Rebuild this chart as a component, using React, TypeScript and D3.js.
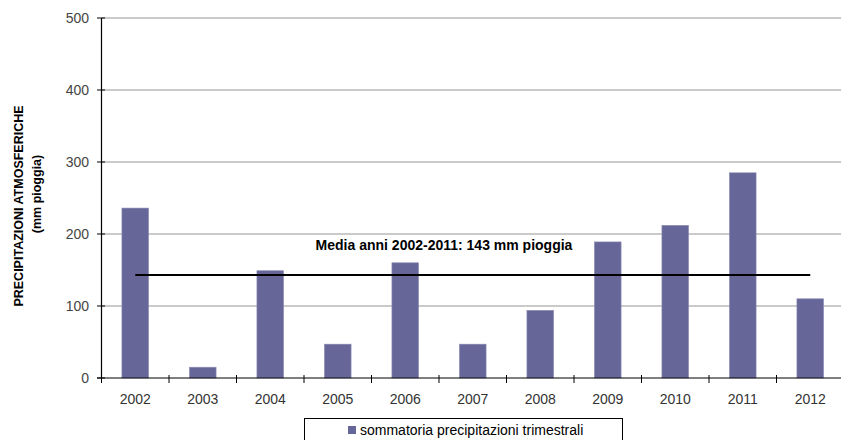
import React from "react";
import * as d3 from "d3";

const years = ["2002", "2003", "2004", "2005", "2006", "2007", "2008", "2009", "2010", "2011", "2012"];
const rainfall = [236, 15, 149, 47, 160, 47, 94, 189, 212, 285, 110];
const yTicks = [0, 100, 200, 300, 400, 500];
const meanValue = 143;
const meanLabel = "Media anni 2002-2011: 143 mm pioggia";
const seriesName = "sommatoria precipitazioni trimestrali";
const yTitle = "PRECIPITAZIONI ATMOSFERICHE";
const ySubTitle = "(mm pioggia)";

const W = 841;
const H = 440;
const left = 101.5;
const right = 844;
const top = 18;
const bottom = 378;
const barColor = "#666699";
const font = "Liberation Sans, Arial, sans-serif";

export default function App() {
  const x = d3.scaleBand<string>().domain(years).range([left, right]).padding(0);
  const y = d3.scaleLinear().domain([0, 500]).range([bottom, top]);
  const bw = x.bandwidth();
  const barW = bw * 0.395;
  const center = (yr: string) => (x(yr) as number) + bw / 2;
  const boundaries = d3.range(years.length + 1).map((i) => left + i * bw);

  return (
    <svg
      width={W}
      height={H}
      style={{ position: "absolute", left: 0, top: 0, background: "#fff" }}
      fontFamily={font}
    >
      {/* gridlines */}
      {yTicks.filter((t) => t > 0).map((t) => (
        <line key={"g" + t} x1={left} x2={right} y1={y(t)} y2={y(t)} stroke="#959595" strokeWidth={1} />
      ))}

      {/* bars */}
      {years.map((yr, i) => (
        <rect
          key={yr}
          x={center(yr) - barW / 2}
          y={y(rainfall[i])}
          width={barW}
          height={y(0) - y(rainfall[i])}
          fill={barColor}
          stroke="#8d8db5"
          strokeWidth={0.6}
        />
      ))}

      {/* mean line */}
      <line
        x1={center(years[0])}
        x2={center(years[years.length - 1])}
        y1={y(meanValue)}
        y2={y(meanValue)}
        stroke="#000"
        strokeWidth={2}
      />
      <text x={444} y={250} textAnchor="middle" fontSize={14} fontWeight="bold" fill="#000">
        {meanLabel}
      </text>

      {/* y axis */}
      <line x1={left} x2={left} y1={top} y2={bottom} stroke="#000" strokeWidth={1.2} />
      {yTicks.map((t) => (
        <g key={"t" + t}>
          <line x1={left - 4.5} x2={left + 3.5} y1={y(t)} y2={y(t)} stroke="#000" strokeWidth={1} />
          <text x={89} y={y(t) + 5} textAnchor="end" fontSize={14} fill="#444">
            {t}
          </text>
        </g>
      ))}

      {/* x axis */}
      <line x1={left - 4.5} x2={right} y1={bottom} y2={bottom} stroke="#000" strokeWidth={1.2} />
      {boundaries.map((bx, i) => (
        <line key={"b" + i} x1={bx} x2={bx} y1={bottom - 3} y2={bottom + 5} stroke="#000" strokeWidth={1} />
      ))}
      {years.map((yr) => (
        <text key={"l" + yr} x={center(yr)} y={404} textAnchor="middle" fontSize={14} fill="#333">
          {yr}
        </text>
      ))}

      {/* axis titles */}
      <text
        transform={`translate(23,206) rotate(-90)`}
        textAnchor="middle"
        fontSize={12.5}
        fontWeight="bold"
        fill="#000"
      >
        {yTitle}
      </text>
      <text
        transform={`translate(41,194) rotate(-90)`}
        textAnchor="middle"
        fontSize={12.5}
        fontWeight="bold"
        fill="#000"
      >
        {ySubTitle}
      </text>

      {/* legend */}
      <rect x={304.5} y={418.5} width={318} height={24} fill="#fff" stroke="#000" strokeWidth={1} />
      <rect x={348} y={426} width={8} height={8} fill={barColor} />
      <text x={360} y={434.5} fontSize={14} fill="#000">
        {seriesName}
      </text>
    </svg>
  );
}
